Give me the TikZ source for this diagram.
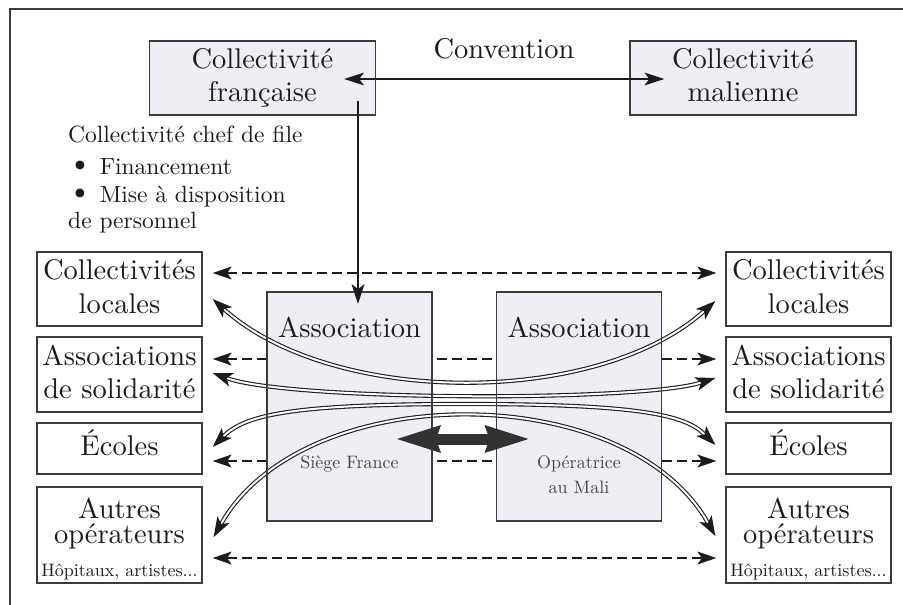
\documentclass[tikz,border=0pt]{standalone}
\usepackage{fontspec}
\setmainfont{lmroman10-regular.otf}
\usetikzlibrary{arrows.meta,calc}
\definecolor{boxfill}{RGB}{238,239,244}
\definecolor{ink}{RGB}{28,28,28}
\definecolor{edge}{RGB}{60,60,60}
\definecolor{softink}{RGB}{70,70,70}
\definecolor{heavyink}{RGB}{50,50,50}
\newcommand{\bigtxt}{\fontsize{28.5}{34}\selectfont}
\newcommand{\midtxt}{\fontsize{23.5}{28}\selectfont}
\newcommand{\smalltxt}{\fontsize{18}{22}\selectfont}
\newcommand{\dotmark}{\raisebox{0.05em}{\scalebox{1.3}{\textbullet}}}
\begin{document}
\begin{tikzpicture}[x=1pt,y=-1pt,
  frameline/.style={draw=edge,line width=1.2pt},
  topbox/.style={draw=edge,fill=boxfill,line width=1.3pt,minimum width=226pt,
    minimum height=74pt,inner sep=0pt},
  sidebox/.style={draw=edge,fill=white,line width=1.3pt,minimum width=165pt,
    minimum height=#1,inner sep=0pt},
  assocbox/.style={fill=boxfill,minimum width=165pt,minimum height=229pt,
    inner sep=0pt,outer sep=0pt},
  assocedge/.style={draw=edge,line width=1.3pt},
  txt/.style={anchor=base,inner sep=0pt,text=ink,font=\bigtxt},
  note/.style={anchor=base west,inner sep=0pt,text=ink,font=\midtxt},
  minor/.style={anchor=base,inner sep=0pt,text=softink,font=\smalltxt},
  link/.style={draw=ink,line width=2.6pt,
    >={Stealth[length=20pt,width=13pt,inset=5pt,line width=0pt]}},
  dashlink/.style={draw=ink,line width=2.6pt,dash pattern=on 10pt off 5pt,
    >={Stealth[length=19pt,width=13pt,inset=4.5pt,line width=0pt]},<->},
  flow/.style={draw=ink,line width=1.1pt,double=white,double distance=2pt,
    >={Stealth[length=20pt,width=14pt,inset=5pt,line width=0pt]},<->},
  heavylink/.style={draw=heavyink,line width=11pt,
    >={Stealth[length=44pt,width=28pt,inset=5pt,line width=0pt]},<->}
]
\useasboundingbox (0,0) rectangle (903,605);
\fill[white] (0,0) rectangle (903,605);

% open frame
\draw[frameline] (10,605) -- (10,9) -- (903,9);

% the two local authorities
\node[topbox] (cf) at (262.5,78) {};
\node[topbox] (cm) at (743,78) {};

% partner boxes, French side and Malian side
\node[sidebox=74pt] (clL) at (119.5,289) {};
\node[sidebox=75pt] (asL) at (119.5,374.5) {};
\node[sidebox=51pt] (ecL) at (119.5,448.5) {};
\node[sidebox=96pt] (aoL) at (119.5,535) {};
\node[sidebox=74pt] (clR) at (808.5,289) {};
\node[sidebox=75pt] (asR) at (808.5,374.5) {};
\node[sidebox=51pt] (ecR) at (808.5,448.5) {};
\node[sidebox=96pt] (aoR) at (808.5,535) {};

% direct partner-to-partner exchanges
\draw[dashlink] ($(clL.east)+(10,-16)$) -- ($(clR.west)+(-9,-16)$);
\draw[dashlink] ($(asL.east)+(10,-15.5)$) -- ($(asR.west)+(-9,-15.5)$);
\draw[dashlink] ($(ecL.east)+(10,12.5)$) -- ($(ecR.west)+(-9,12.5)$);
\draw[dashlink] ($(aoL.east)+(10,23)$) -- ($(aoR.west)+(-9,23)$);

% the association, in France and in Mali
\node[assocbox] (af) at (349.5,406.5) {};
\node[assocbox] (ar) at (579,406.5) {};

% flows through the association
\draw[flow] ($(clL.east)+(10,10)$) .. controls (333,407) and (597,407) .. ($(clR.west)+(-10,12)$);
\draw[flow] ($(asL.east)+(10,-1.5)$) .. controls (290,401) and (640,402) .. ($(asR.west)+(-10,3.5)$);
\draw[flow] ($(ecL.east)+(10,-1.5)$) .. controls (245,415) and (290,404) .. (465,404)
  .. controls (640,404) and (685,415) .. ($(ecR.west)+(-10,-3.5)$);
\draw[flow] ($(aoL.east)+(11,2)$) .. controls (304,378) and (626,378) .. ($(aoR.west)+(-10,1)$);

\draw[assocedge] (af.north west) rectangle (af.south east);
\draw[assocedge] (ar.north west) rectangle (ar.south east);

% exchange between the two branches
\draw[heavylink] ($(af.east)+(-35,32.5)$) -- ($(ar.west)+(32,32.5)$);

% convention and lead authority
\draw[link,<->] ($(cf.east)+(-32,1)$) -- ($(cm.west)+(35,1)$);
\draw[link,->] ($(cf.south)+(95.5,-15)$) -- ($(af.north)+(8.5,12)$);

% texts
\node[txt] (tconv) at (504,58) {Convention};
\node[txt] (tcf1) at (262.5,68) {Collectivité};
\node[txt] (tcf2) at (262.5,101) {française};
\node[txt] (tcm1) at (743,68) {Collectivité};
\node[txt] (tcm2) at (743,101) {malienne};

\node[note] (tlead) at (68,142) {Collectivité chef de file};
\node[note] (tfin) at (68,174) {\dotmark{} Financement};
\node[note] (tmad1) at (68,202) {\dotmark{} Mise à disposition};
\node[note] (tmad2) at (68,228) {de personnel};

\node[txt] (tclL1) at (119.5,279) {Collectivités};
\node[txt] (tclL2) at (119.5,313) {locales};
\node[txt] (tasL1) at (119.5,365) {Associations};
\node[txt] (tasL2) at (119.5,398) {de solidarité};
\node[txt] (tecL) at (119.5,455) {Écoles};
\node[txt] (taoL1) at (119.5,518) {Autres};
\node[txt] (taoL2) at (119.5,543) {opérateurs};
\node[minor,text=ink] (taoL3) at (119.5,576) {Hôpitaux, artistes...};

\node[txt] (tclR1) at (808.5,279) {Collectivités};
\node[txt] (tclR2) at (808.5,313) {locales};
\node[txt] (tasR1) at (808.5,365) {Associations};
\node[txt] (tasR2) at (808.5,398) {de solidarité};
\node[txt] (tecR) at (808.5,455) {Écoles};
\node[txt] (taoR1) at (808.5,518) {Autres};
\node[txt] (taoR2) at (808.5,543) {opérateurs};
\node[minor,text=ink] (taoR3) at (808.5,576) {Hôpitaux, artistes...};

\node[txt] (taf) at (349.5,337) {Association};
\node[minor] (taf2) at (349.5,468) {Siège France};
\node[txt] (tar) at (579,337) {Association};
\node[minor] (tar2) at (579,468) {Opératrice};
\node[minor] (tar3) at (579,493) {au Mali};
\end{tikzpicture}
\end{document}
